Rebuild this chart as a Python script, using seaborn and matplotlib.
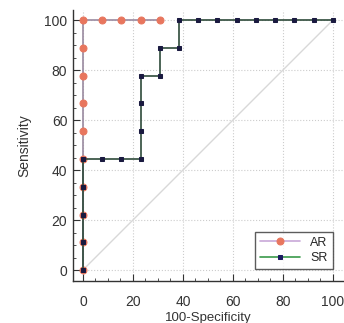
import numpy as np
import pandas as pd
import matplotlib
matplotlib.use("Agg")
import matplotlib.pyplot as plt
import seaborn as sns
from matplotlib.ticker import MultipleLocator

# ROC points (100-Specificity, Sensitivity)
ar_x = [0, 0, 0, 0, 0, 0, 0, 0, 0, 0, 7.7, 15.4, 23.1, 30.8]
ar_y = [0, 11.1, 22.2, 33.3, 44.4, 55.6, 66.7, 77.8, 88.9, 100, 100, 100, 100, 100]

sr_x = [0, 0, 0, 0, 0, 7.7, 15.4, 23.1, 23.1, 23.1, 23.1, 30.8, 30.8, 38.5, 38.5,
        46.2, 53.8, 61.5, 69.2, 76.9, 84.6, 92.3, 100]
sr_y = [0, 11.1, 22.2, 33.3, 44.4, 44.4, 44.4, 44.4, 55.6, 66.7, 77.8, 77.8, 88.9, 88.9, 100,
        100, 100, 100, 100, 100, 100, 100, 100]

sns.set_style("white")
plt.rcParams['font.family'] = ['Liberation Sans', 'DejaVu Sans']

fig = plt.figure(figsize=(3.44, 3.23), dpi=100)
ax = fig.add_axes([0.212, 0.130, 0.785, 0.839])

ax.plot([0, 100], [0, 100], color='#d8d8d8', lw=1, zorder=1)

df_ar = pd.DataFrame({'x': ar_x, 'y': ar_y})
df_sr = pd.DataFrame({'x': sr_x, 'y': sr_y})
sns.lineplot(data=df_ar, x='x', y='y', sort=False, estimator=None, ax=ax,
             color='#9a8aa0', lw=1.2, marker='o', markersize=5,
             markerfacecolor='#e8765e', markeredgecolor='#e8765e', label='AR', zorder=3)
sns.lineplot(data=df_sr, x='x', y='y', sort=False, estimator=None, ax=ax,
             color='#2e4a3a', lw=1.2, marker='s', markersize=3,
             markerfacecolor='#1a1a40', markeredgecolor='#1a1a40', label='SR', zorder=4)

ax.set_xlim(-4, 104)
ax.set_ylim(-4.4, 104)
ax.xaxis.set_major_locator(MultipleLocator(20))
ax.yaxis.set_major_locator(MultipleLocator(20))
ax.xaxis.set_minor_locator(MultipleLocator(5))
ax.yaxis.set_minor_locator(MultipleLocator(5))
ax.tick_params(which='both', direction='in', colors='#333333', labelsize=10)
ax.tick_params(which='major', length=5, width=0.8)
ax.tick_params(which='minor', length=2.5, width=0.6)
ax.tick_params(axis='both', which='both', bottom=True, left=True)
ax.tick_params(axis='x', which='major', pad=10)
ax.tick_params(axis='y', which='major', pad=4)
ax.grid(True, which='major', ls=':', color='#cccccc', lw=0.8)

for s in ['top', 'right']:
    ax.spines[s].set_visible(False)
for s in ['left', 'bottom']:
    ax.spines[s].set_color('#333333')
    ax.spines[s].set_linewidth(1)

ax.set_xlabel('100-Specificity', fontsize=9.5, color='#333333', labelpad=2)
ax.set_ylabel('Sensitivity', fontsize=10, color='#333333', labelpad=9)

leg = ax.legend(loc='lower right', fontsize=9, frameon=True, fancybox=False,
                edgecolor='#333333', borderpad=0.4, handlelength=3.2, labelspacing=0.3,
                bbox_to_anchor=(0.985, 0.02))
leg.get_frame().set_linewidth(1)
leg.legend_handles[0].set_color('#c8a8d8')
leg.legend_handles[0].set_markerfacecolor('#e8765e')
leg.legend_handles[0].set_markeredgecolor('#e8765e')
leg.legend_handles[1].set_color('#3a9a4a')
leg.legend_handles[1].set_markerfacecolor('#1a1a60')
leg.legend_handles[1].set_markeredgecolor('#1a1a60')

fig.savefig('out.png', dpi=100)
